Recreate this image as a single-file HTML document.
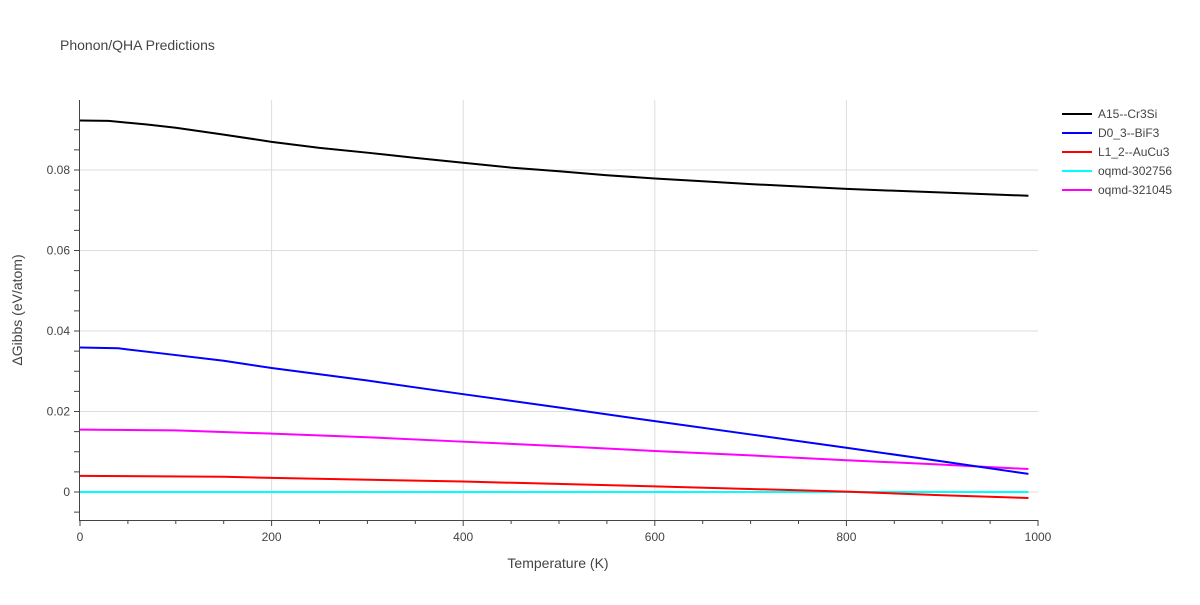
<!DOCTYPE html>
<html><head><meta charset="utf-8"><style>
body{margin:0;background:#fff;font-family:"Liberation Sans",sans-serif;}
svg text{font-family:"Liberation Sans",sans-serif;fill:#444;}
</style></head><body>
<svg id="chart" width="1200" height="600">
<text x="60" y="50" font-size="14">Phonon/QHA Predictions</text>
<g id="grid"></g><g id="axes"></g><g id="series"></g><g id="legend"></g>
<text x="558" y="568" font-size="14" text-anchor="middle">Temperature (K)</text>
<text transform="translate(22,310) rotate(-90)" font-size="14" text-anchor="middle">ΔGibbs (eV/atom)</text>
</svg>
<script>
const xTicks=[0,200,400,600,800,1000];
const yTicks=[0,0.02,0.04,0.06,0.08];
const yTickLabels=["0","0.02","0.04","0.06","0.08"];
const seriesNames=["A15--Cr3Si","D0_3--BiF3","L1_2--AuCu3","oqmd-302756","oqmd-321045"];
const seriesColors=["#000000","#0000ff","#ff0000","#00ffff","#ff00ff"];
const tA15=[0,30,70,100,150,200,250,300,350,400,450,500,550,600,650,700,800,900,990];
const vA15=[0.0923,0.0922,0.0913,0.0905,0.0888,0.0870,0.0855,0.0843,0.0830,0.0818,0.0806,0.0797,0.0787,0.0779,0.0772,0.0765,0.0753,0.0744,0.0736];
const tD03=[0,40,90,150,200,300,400,500,600,700,800,900,990];
const vD03=[0.0359,0.0357,0.0343,0.0326,0.0308,0.0277,0.0243,0.0210,0.0176,0.0143,0.0110,0.0076,0.0045];
const tL12=[0,150,200,400,600,800,900,990];
const vL12=[0.0040,0.0038,0.0035,0.0026,0.0014,0.0001,-0.0008,-0.0015];
const t302=[0,990];
const v302=[0,0];
const t321=[0,100,200,300,400,500,600,700,800,900,990];
const v321=[0.0155,0.0153,0.0145,0.0136,0.0125,0.0114,0.0102,0.0091,0.0079,0.0068,0.0057];
const X=v=>80+v*0.958, Y=v=>492-v*4025;
const NS="http://www.w3.org/2000/svg";
function mk(p,tag,at){const e=document.createElementNS(NS,tag);for(const k in at)e.setAttribute(k,at[k]);p.appendChild(e);return e;}
const grid=document.getElementById('grid'),axes=document.getElementById('axes'),ser=document.getElementById('series'),leg=document.getElementById('legend');
xTicks.forEach(t=>{if(t>0&&t<1000){const l=mk(grid,'line',{x1:X(t),x2:X(t),y1:100,y2:520,stroke:'#ddd'});

}
const tx=mk(axes,'text',{x:X(t),y:541,'font-size':12,'text-anchor':'middle'});tx.textContent=t;

});
for(let t=0;t<=1000;t+=50){mk(axes,'line',{x1:X(t),x2:X(t),y1:520,y2:t%200==0?526:524,stroke:'#444'});}
yTicks.forEach((t,i)=>{const l=mk(grid,'line',{x1:80,x2:1038,y1:Y(t),y2:Y(t),stroke:'#ddd'});


const tx=mk(axes,'text',{x:70,y:Y(t)+4,'font-size':12,'text-anchor':'end'});tx.textContent=yTickLabels[i];

});
for(let v=-0.005;v<=0.095;v+=0.005){mk(axes,'line',{x1:74,x2:80,y1:Y(v),y2:Y(v),stroke:'#444'});}
mk(axes,'line',{x1:79.5,x2:79.5,y1:100,y2:520,stroke:'#444'});
mk(axes,'line',{x1:79,x2:1038,y1:520.5,y2:520.5,stroke:'#444'});
const data=[[tA15,vA15],[tD03,vD03],[tL12,vL12],[t302,v302],[t321,v321]];
const order=[3,2,4,1,0];
order.forEach(i=>{const [ts,vs]=data[i];
const p=mk(ser,'polyline',{points:ts.map((t,j)=>X(t)+','+Y(vs[j])).join(' '),fill:'none',stroke:seriesColors[i],'stroke-width':2});

});
seriesNames.forEach((n,i)=>{const g=mk(leg,'g',{});


const y=114+i*19;mk(g,'line',{x1:1062,x2:1092,y1:y,y2:y,stroke:seriesColors[i],'stroke-width':2});
const t=mk(g,'text',{x:1098,y:y+4,'font-size':12});t.textContent=n;});
</script>
</body></html>
